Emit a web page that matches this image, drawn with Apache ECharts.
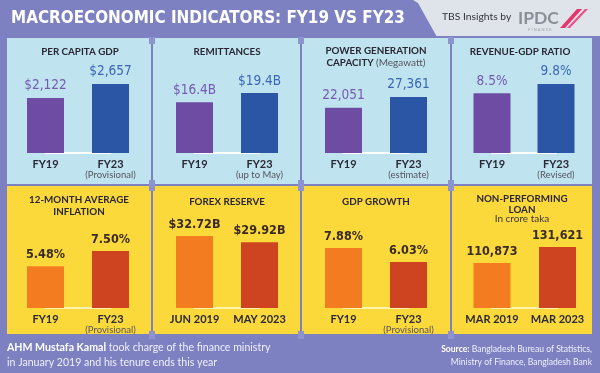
<!DOCTYPE html>
<html><head><meta charset="utf-8">
<script src="https://cdn.jsdelivr.net/npm/echarts@6/dist/echarts.min.js"></script>
<style>html,body{margin:0;padding:0;background:#7d81c1;}#c{width:600px;height:373px;}</style>
</head><body><div id="c"></div>
<script>
// ---- data ----
const fyCategories = ['FY19', 'FY23'];
const forexCategories = ['JUN 2019', 'MAY 2023'];
const nplCategories = ['MAR 2019', 'MAR 2023'];
const perCapitaGdp = [2122, 2657];
const remittances = [16.4, 19.4];
const powerCapacity = [22051, 27361];
const revenueGdpRatio = [8.5, 9.8];
const inflation = [5.48, 7.50];
const forexReserve = [32.72, 29.92];
const gdpGrowth = [7.88, 6.03];
const nonPerformingLoan = [110873, 131621];
const notesPerCapita = ['', '(Provisional)'];
const notesRemittances = ['', '(up to May)'];
const notesPower = ['', '(estimate)'];
const notesRevenue = ['', '(Revised)'];
const notesInflation = ['', '(Provisional)'];
const notesGdpGrowth = ['', '(Provisional)'];
const noNotes = ['', ''];
const chartTitle = 'MACROECONOMIC INDICATORS: FY19 VS FY23';

const num = v => v.toLocaleString('en-US');
const FONT = 'Lato, "Noto Sans", sans-serif';
const NARROW = '"Liberation Sans Narrow", "DejaVu Sans Condensed", "Roboto", sans-serif';

// font-size fitting so text widths match the reference
const mctx = document.createElement('canvas').getContext('2d');
function fit(text, weight, family, target) {
  mctx.font = weight + ' 20px ' + family;
  return Math.round(20 * target / mctx.measureText(text).width * 10) / 10;
}

const fmtPerCapita = v => '$' + num(v);
const fmtForex = v => '$' + v.toFixed(2) + 'B';
const TOP_SIZE = 13.5;
const BOT_SIZE = 12.5;

const TOP_COLORS = ['#6e4ca4', '#2b56a6'];
const TOP_LABEL = ['#7659b2', '#3b66b4'];
const BOT_COLORS = ['#f47c20', '#cf4420'];
const BOT_LABEL = ['#3a2a24', '#3a2a24'];

const panels = [
  {cats: fyCategories, notes: notesPerCapita, values: perCapitaGdp, fmt: fmtPerCapita, left: 45.5, width: 65, row: 0, min: 0, max: 3080},
  {cats: fyCategories, notes: notesRemittances, values: remittances, fmt: v => '$' + v.toFixed(1) + 'B', left: 194.5, width: 65, row: 0, min: 0, max: 25.87},
  {cats: fyCategories, notes: notesPower, values: powerCapacity, fmt: v => num(v), left: 343.5, width: 65, row: 0, min: 0, max: 39087},
  {cats: fyCategories, notes: notesRevenue, values: revenueGdpRatio, fmt: v => v.toFixed(1) + '%', left: 492, width: 64, row: 0, min: 0, max: 11.36},
  {cats: fyCategories, notes: notesInflation, values: inflation, fmt: v => v.toFixed(2) + '%', left: 45.5, width: 65, row: 1, min: 0, max: 10.53},
  {cats: forexCategories, notes: noNotes, values: forexReserve, fmt: fmtForex, left: 194.5, width: 65, row: 1, min: 0, max: 36.36},
  {cats: fyCategories, notes: notesGdpGrowth, values: gdpGrowth, fmt: v => v.toFixed(2) + '%', left: 343.5, width: 65, row: 1, min: 0, max: 10.51},
  {cats: nplCategories, notes: noNotes, values: nonPerformingLoan, fmt: v => num(v), left: 492, width: 65.5, row: 1, min: 52500, max: 156250}
];

const grids = [], xAxes = [], yAxes = [], series = [];
panels.forEach((p, i) => {
  const top = p.row === 0 ? 73 : 228;
  grids.push({left: p.left, top: top, width: p.width, height: 80});
  xAxes.push({
    type: 'category', gridIndex: i, data: p.cats, boundaryGap: false, z: 3,
    axisLine: {lineStyle: {color: p.row === 0 ? '#ffffff' : '#fff3b0', width: 2}},
    axisTick: {show: false},
    axisLabel: {
      interval: 0, margin: 5,
      formatter: (v, k) => p.notes[k] ? '{a|' + v + '}\n{b|' + p.notes[k] + '}' : '{a|' + v + '}',
      rich: {
        a: {fontFamily: FONT, fontWeight: 'bold', fontSize: 11, color: '#2b2935', lineHeight: 12},
        b: {fontFamily: FONT, fontSize: 9.5, color: '#55535f', lineHeight: 10}
      }
    }
  });
  yAxes.push({type: 'value', gridIndex: i, min: p.min, max: p.max, show: false});
  const colors = p.row === 0 ? TOP_COLORS : BOT_COLORS;
  const lcolors = p.row === 0 ? TOP_LABEL : BOT_LABEL;
  series.push({
    type: 'bar', xAxisIndex: i, yAxisIndex: i, barWidth: 37, z: 4,
    data: p.values.map((v, k) => ({
      value: v,
      itemStyle: {color: colors[k]},
      label: {color: lcolors[k]}
    })),
    label: {
      show: true, position: 'top', distance: 5,
      fontFamily: NARROW, fontSize: p.row === 0 ? TOP_SIZE : BOT_SIZE, fontWeight: p.row === 0 ? 'normal' : 'bold',
      formatter: d => p.fmt(d.value)
    }
  });
});

// ---- decoration ----
const PURPLE = '#7d81c1';
const BLUE_BG = '#bfe4f0';
const YEL_BG = '#fcd93a';
const cols = [[7, 151], [153, 300], [302, 450], [452, 592]];
const rows = [[38, 184], [186, 334]];
const g = [];
g.push({type: 'rect', shape: {x: 410, y: 0, width: 190, height: 36}, style: {fill: '#dfe4ea'}, z: 0});
g.push({type: 'polygon', shape: {points: [[405, 0], [413, 0], [418, 3], [437, 37], [405, 37]]}, style: {fill: PURPLE}, z: 0});
rows.forEach((r, ri) => cols.forEach(c => {
  g.push({type: 'rect', shape: {x: c[0], y: r[0], width: c[1] - c[0], height: r[1] - r[0]}, style: {fill: ri === 0 ? BLUE_BG : YEL_BG}, z: 0});
}));
[152, 301, 451].forEach(x => {
  [[37, 7], [180, 11], [331, 8]].forEach(s => {
    g.push({type: 'rect', shape: {x: x - 3, y: s[0], width: 6, height: s[1]}, style: {fill: '#8e92cf'}, z: 1});
  });
});
const T = (text, x, y, opts) => ({type: 'text', z: 10, style: Object.assign({text: text, x: x, y: y, textAlign: 'center', textVerticalAlign: 'middle', fill: '#2a2633', font: 'bold 10px ' + FONT}, opts || {})});

const titleSize = fit(chartTitle, 'bold', NARROW, 395);
const panelTitleSize = Math.min(11.5, fit('PER CAPITA GDP', 'bold', FONT, 78));
const PT = {font: 'bold ' + panelTitleSize + 'px ' + FONT};
const tbsSize = fit('TBS Insights by', 'normal', FONT, 69);
const ipdcSize = fit('IPDC', 'bold', FONT, 41);
const footLine1 = 'AHM Mustafa Kamal took charge of the finance ministry';
const footSize = fit(footLine1, 'normal', FONT, 263);
const srcSize = fit('Source: Bangladesh Bureau of Statistics,', 'normal', FONT, 150);

// header
g.push(T(chartTitle, 11, 19, {textAlign: 'left', fill: '#ffffff', font: 'bold ' + titleSize + 'px ' + NARROW}));
g.push(T('TBS Insights by', 442, 17, {textAlign: 'left', fill: '#33343c', font: tbsSize + 'px ' + FONT}));
g.push(T('IPDC', 518, 18, {textAlign: 'left', fill: '#8a8e98', font: 'bold ' + ipdcSize + 'px ' + FONT}));
g.push({type: 'polygon', z: 10, shape: {points: [[560, 28], [565, 28], [582, 9], [577, 9]]}, style: {fill: '#e5336e'}});
g.push({type: 'polygon', z: 10, shape: {points: [[567, 28], [570, 28], [588, 9], [585, 9]]}, style: {fill: '#ec4f86'}});
g.push(T('F I N A N C E', 540, 30, {fill: '#9a9ea8', font: '4px ' + FONT}));
// panel titles
g.push(T('PER CAPITA GDP', 80, 52, PT));
g.push(T('REMITTANCES', 227, 52, PT));
g.push(T('POWER GENERATION', 376, 51, PT));
g.push(T('{a|CAPACITY} {b|(Megawatt)}', 376, 63, {rich: {a: {font: 'bold ' + panelTitleSize + 'px ' + FONT, fill: '#2a2633'}, b: {font: '10px ' + FONT, fill: '#55535f'}}}));
g.push(T('REVENUE-GDP RATIO', 520, 52, PT));
g.push(T('12-MONTH AVERAGE', 79, 200, PT));
g.push(T('INFLATION', 79, 212, PT));
g.push(T('FOREX RESERVE', 227, 202, PT));
g.push(T('GDP GROWTH', 376, 202, PT));
g.push(T('NON-PERFORMING', 522, 199, PT));
g.push(T('LOAN', 522, 210, PT));
g.push(T('In crore taka', 522, 219, {font: '10px ' + FONT, fill: '#3a3540'}));
// footer
g.push(T('{a|AHM Mustafa Kamal} took charge of the finance ministry', 7, 348, {textAlign: 'left', fill: '#eef0fb', font: footSize + 'px ' + FONT, rich: {a: {font: 'bold ' + footSize + 'px ' + FONT, fill: '#ffffff'}}}));
g.push(T('in January 2019 and his tenure ends this year', 7, 363, {textAlign: 'left', fill: '#eef0fb', font: footSize + 'px ' + FONT}));
g.push(T('{a|Source:} Bangladesh Bureau of Statistics,', 592, 349, {textAlign: 'right', fill: '#eef0fb', font: srcSize + 'px ' + FONT, rich: {a: {font: 'bold ' + srcSize + 'px ' + FONT, fill: '#ffffff'}}}));
g.push(T('Ministry of Finance, Bangladesh Bank', 592, 362, {textAlign: 'right', fill: '#eef0fb', font: srcSize + 'px ' + FONT}));

const chart = echarts.init(document.getElementById('c'));
chart.setOption({
  backgroundColor: PURPLE,
  animation: false,
  grid: grids, xAxis: xAxes, yAxis: yAxes, series: series,
  graphic: {elements: g}
});
</script></body></html>
